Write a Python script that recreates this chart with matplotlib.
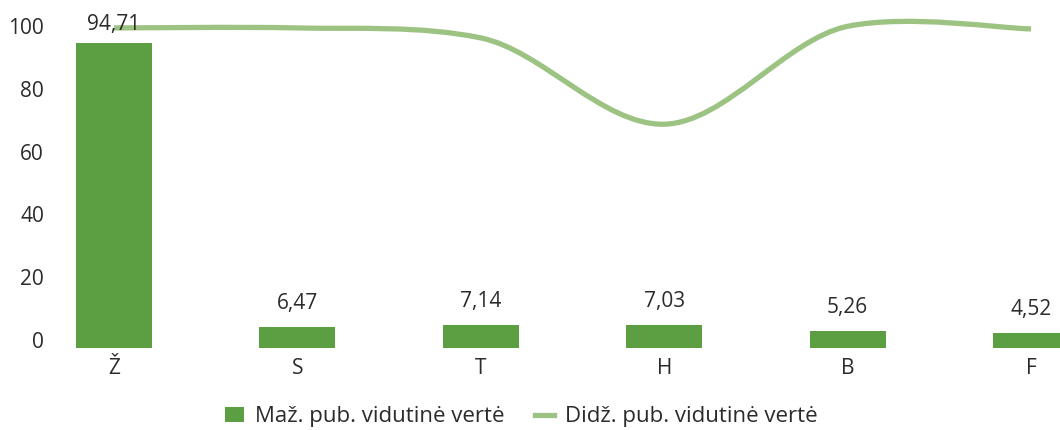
import matplotlib
matplotlib.use("Agg")
import matplotlib.pyplot as plt
from matplotlib.path import Path
from matplotlib.patches import PathPatch, Patch
from matplotlib.lines import Line2D
import matplotlib.transforms as mtransforms

categories = ["Ž", "S", "T", "H", "B", "F"]
small_pub = [94.71, 6.47, 7.14, 7.03, 5.26, 4.52]
large_pub = [99.4, 99.4, 96.3, 69.5, 99.9, 99.1]
small_labels = ["94,71", "6,47", "7,14", "7,03", "5,26", "4,52"]
y_ticks = [0, 20, 40, 60, 80, 100]
legend_labels = ["Maž. pub. vidutinė vertė", "Didž. pub. vidutinė vertė"]

bar_color = "#5c9f43"
line_color = "#9dc383"
text_color = "#2b2b2b"

plt.rcParams["font.family"] = ["Open Sans", "DejaVu Sans"]

W, H = 1060, 430
fig = plt.figure(figsize=(W / 100, H / 100), dpi=100)
# axes in pixels: left 55, right 1060, bottom y=348, top y=10
ax = fig.add_axes([55 / W, (H - 348) / H, (W - 55) / W, (348 - 10) / H])

x = list(range(len(categories)))
ax.bar(x, small_pub, width=0.414, color=bar_color, zorder=2)

# value labels above bars, kept below the 100 line
for xi, v, lab in zip(x, small_pub, small_labels):
    ax.text(xi, min(v + 7.3, 100.5), lab, ha="center", va="center",
            fontsize=15, color=text_color, zorder=4)

# smoothed line (cubic bezier through the points)
k = 0.13  # smoothing tension
pts = list(zip(x, large_pub))
verts = [pts[0]]
codes = [Path.MOVETO]
n = len(pts)
for i in range(n - 1):
    p0 = pts[i - 1] if i > 0 else pts[i]
    p1 = pts[i]
    p2 = pts[i + 1]
    p3 = pts[i + 2] if i + 2 < n else pts[i + 1]
    c1 = (p1[0] + (p2[0] - p0[0]) / 6, p1[1] + (p2[1] - p0[1]) * k)
    c2 = (p2[0] - (p3[0] - p1[0]) / 6, p2[1] - (p3[1] - p1[1]) * k)
    verts += [c1, c2, p2]
    codes += [Path.CURVE4] * 3
ax.add_patch(PathPatch(Path(verts, codes), facecolor="none",
                       edgecolor=line_color, lw=3.8, capstyle="butt", zorder=3))

ax.set_xlim(-0.322, 5.158)
ax.set_ylim(0, 100 * 338 / 322)
ax.set_xticks(x)
ax.set_xticklabels(categories)
ax.set_yticks(y_ticks)
ax.tick_params(axis="both", length=0, labelsize=15, colors=text_color)
ax.tick_params(axis="y", pad=8)
ax.tick_params(axis="x", pad=7)
for t, lbl in zip(y_ticks, ax.get_yticklabels()):
    shift = 8 * (1 - t / 100) / 100
    lbl.set_transform(lbl.get_transform() +
                      mtransforms.ScaledTranslation(0, shift, fig.dpi_scale_trans))
for s in ax.spines.values():
    s.set_visible(False)

handles = [Patch(facecolor=bar_color, edgecolor="none"),
           Line2D([], [], color=line_color, lw=3.8)]
fig.legend(handles, legend_labels, loc="center", bbox_to_anchor=(0.492, 0.031),
           ncol=2, frameon=False, fontsize=16, labelcolor=text_color,
           handlelength=0.85, handleheight=0.65, handletextpad=0.5,
           columnspacing=1.35, borderpad=0)

fig.savefig("out.png", dpi=100)
